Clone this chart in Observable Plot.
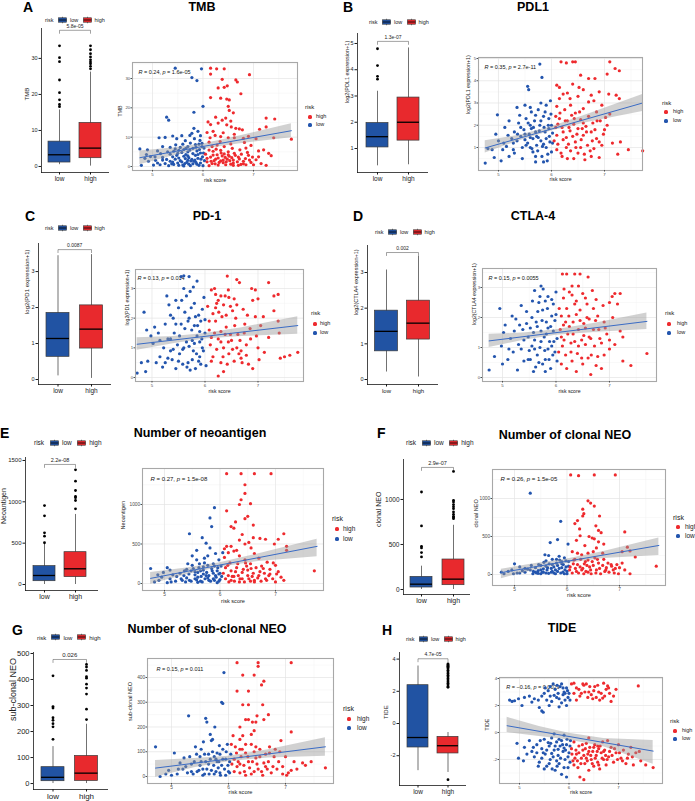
<!DOCTYPE html>
<html><head><meta charset="utf-8">
<script src="https://cdn.jsdelivr.net/npm/d3@7"></script>
<script src="https://cdn.jsdelivr.net/npm/@observablehq/plot@0.6"></script>
<style>
body{margin:0;background:#fff;}
#fig{position:relative;width:695px;height:801px;overflow:hidden;background:#fff;font-family:"Liberation Sans",Arial,Helvetica,sans-serif;color:#1a1a1a;}
#fig .t{position:absolute;white-space:nowrap;line-height:1;}
#fig svg{position:absolute;}
</style></head>
<body><div id="fig"></div>
<script>
// ---------------- shared categories / labels ----------------
const riskGroups = ["low", "high"];
const legendOrder = ["high", "low"];
const panelLetters = ["A", "B", "C", "D", "E", "F", "G", "H"];
const panelTitles = ["TMB", "PDL1", "PD-1", "CTLA-4", "Number of neoantigen", "Number of clonal NEO", "Number of sub-clonal NEO", "TIDE"];
const yTitles = ["TMB", "log2(PDL1 expression+1)", "log2(PD1 expression+1)", "log2(CTLA4 expression+1)", "Neoantigen", "clonal NEO", "sub-clonal NEO", "TIDE"];
const xTitle = "risk score";
const scoreTicks = [5, 6, 7];
const scoreMinor = [5.5, 6.5, 7.5];

// ---------------- A: TMB ----------------
const tmbBox = [[0.5, 1.1, 3.25, 6.9, 15.7], [0.1, 2.3, 5.1, 12.1, 26.2]]; // min,q1,median,q3,max (low, high)
const tmbOutLow = [16.6, 17.2, 18.5, 20.5, 24.0, 29.1, 30.2, 33.5];
const tmbOutHigh = [27.1, 27.8, 28.5, 29.0, 29.6, 30.4, 31.3, 32.4, 33.5];
const tmbP = "5.8e-05";
const tmbBoxTicks = [0, 10, 20, 30];
const tmbTicks = [0, 10, 20, 30];
const tmbMinor = [5, 15, 25, 35];
const tmbStat = "R = 0.24, p = 1.6e-05";
const tmbFit = [[4.75, 3.0], [7.75, 12.2]];
const tmbBand = [[4.75, 0.6, 5.3], [5.4, 3.6, 6.3], [6.0, 5.9, 7.7], [6.7, 7.7, 10.3], [7.75, 9.8, 14.6]];
const tmbLow = [[5.45,33.5],[5.97,33.3],[5.78,30.3],[5.88,29.3],[6.0,20.5],[5.82,18.5],[5.28,16.8],[5.32,15.8],[4.75,6.0],[4.9,5.7],[5.13,9.8],[5.25,9.9],[5.4,10.4],[5.48,9.5],[5.58,10.5],[5.82,13.0],[5.78,11.3],[5.9,12.0],[5.95,10.5],[5.65,8.8],[5.6,7.6],[5.75,8.0],[5.85,7.5],[5.92,7.6],[5.98,7.9],[5.55,6.5],[5.45,6.0],[5.35,6.5],[5.2,6.8],[5.1,5.3],[5.3,5.0],[5.5,4.5],[5.7,5.0],[5.8,6.2],[5.88,5.3],[5.95,4.6],[6.02,6.3],[5.62,3.5],[5.72,3.0],[5.4,3.3],[5.2,3.1],[5.05,3.3],[4.85,2.8],[4.92,1.8],[5.02,0.5],[4.78,0.4],[5.15,0.6],[5.25,1.0],[5.32,0.3],[5.42,0.7],[5.5,1.2],[5.6,0.5],[5.68,1.4],[5.75,0.3],[5.82,1.8],[5.88,0.8],[5.95,1.2],[6.0,0.3],[5.55,2.0],[5.45,2.5],[5.78,2.4],[5.9,2.8],[5.99,3.3],[5.35,1.8],[5.1,1.2],[5.65,2.7],[5.85,3.8],[6.03,2.0],[4.88,4.1],[5.7,6.8],[5.52,5.5],[5.62,0.2],[5.7,2.1],[5.92,0.4],[5.8,0.9],[5.38,0.9],[5.58,1.6],[5.28,2.4],
  [5.35,4.2],[5.42,5.2],[5.48,3.8],[5.52,2.9],[5.58,4.8],[5.62,5.8],[5.66,4.1],[5.7,3.6],[5.74,5.6],[5.76,1.9],[5.8,4.4],[5.84,2.2],[5.86,6.6],[5.9,4.1],[5.93,5.8],[5.96,2.5],[5.98,6.8],[6.01,4.6],[5.64,1.0],[5.72,0.8],[5.86,1.4],[5.52,0.4],[5.4,1.5],[5.2,2.2],[5.06,2.1],[4.96,3.4],[5.16,4.4],[5.46,7.4],[5.66,6.2],[5.94,8.9],[5.83,9.5],[5.74,10.6]];
const tmbHigh = [[6.15,33.5],[6.27,33.3],[6.42,33.3],[6.15,31.5],[6.92,31.3],[6.38,29.7],[6.65,29.5],[6.68,28.8],[6.48,27.5],[6.42,27.0],[6.3,26.8],[6.75,24.8],[6.15,23.5],[6.35,23.3],[6.47,23.0],[6.52,22.7],[6.5,20.5],[6.6,18.3],[6.52,19.1],[6.25,16.8],[6.45,16.5],[6.38,15.8],[6.55,15.5],[6.1,15.2],[6.3,14.8],[6.15,14.3],[6.47,14.2],[6.56,13.5],[6.65,13.0],[6.72,12.8],[6.78,12.5],[6.62,11.0],[6.4,11.5],[6.2,12.0],[6.08,11.6],[6.35,10.2],[6.5,9.8],[6.62,9.8],[6.8,9.6],[6.9,10.3],[7.25,16.5],[7.42,16.2],[7.25,13.5],[7.12,12.7],[7.4,9.8],[7.75,9.3],[7.05,9.5],[6.95,7.2],[6.85,6.3],[6.73,5.7],[6.55,7.7],[6.42,6.8],[6.28,7.3],[6.12,8.3],[6.2,5.2],[6.35,5.5],[6.5,5.0],[6.62,4.5],[7.1,5.3],[7.2,5.7],[7.3,4.5],[7.35,3.7],[7.1,3.3],[7.05,2.3],[6.95,1.4],[6.8,1.8],[6.9,3.8],[6.7,3.2],[6.6,2.2],[6.48,2.5],[6.38,3.6],[6.25,2.5],[6.15,3.2],[6.08,1.6],[6.18,1.0],[6.3,0.5],[6.4,1.3],[6.55,0.8],[6.7,0.4],[6.85,0.6],[7.15,1.0],[7.25,0.4],[6.12,0.3],[6.22,2.0],[6.35,1.9],[6.45,0.6],[6.6,1.2],[6.05,4.2],[6.28,4.0],[6.42,4.3],[6.52,3.5],[6.75,0.7],
  [6.08,2.8],[6.12,5.6],[6.16,1.8],[6.2,3.9],[6.24,0.9],[6.26,5.9],[6.3,2.9],[6.32,1.4],[6.36,4.6],[6.4,2.2],[6.44,3.1],[6.46,1.6],[6.5,4.0],[6.53,2.0],[6.57,3.0],[6.6,0.4],[6.64,3.8],[6.68,1.6],[6.72,2.6],[6.76,4.2],[6.8,0.9],[6.84,2.7],[6.88,4.8],[6.92,2.2],[6.98,3.2],[7.0,0.6],[6.18,6.8],[6.34,8.5],[6.58,6.2],[6.82,8.2],[6.14,9.8],[6.24,10.6]];

// ---------------- B: PDL1 ----------------
const pdl1Box = [[0.34, 1.04, 1.45, 1.97, 3.18], [0.38, 1.3, 2.0, 2.94, 4.83]];
const pdl1OutLow = [3.64, 3.75, 4.16, 4.8];
const pdl1OutHigh = [];
const pdl1P = "1.3e-07";
const pdl1BoxTicks = [1, 2, 3, 4, 5];
const pdl1Ticks = [1, 2, 3, 4, 5];
const pdl1Minor = [0.5, 1.5, 2.5, 3.5, 4.5];
const pdl1Stat = "R = 0.35, p = 2.7e-11";
const pdl1Fit = [[4.75, 0.98], [7.72, 3.0]];
const pdl1Band = [[4.75, 0.75, 1.3], [5.4, 1.3, 1.55], [6.0, 1.74, 1.93], [6.7, 2.13, 2.5], [7.72, 2.62, 3.38]];
const pdl1Low = [[4.75,0.3],[4.8,0.95],[4.88,0.9],[4.95,1.6],[4.98,2.47],[5.0,1.3],[4.92,0.55],[5.05,0.4],[5.1,1.2],[5.15,1.05],[5.2,0.6],[5.25,1.4],[5.28,0.9],[5.3,1.7],[5.35,1.3],[5.38,2.1],[5.42,1.5],[5.45,1.0],[5.45,0.5],[5.48,1.8],[5.52,2.3],[5.55,3.75],[5.57,3.6],[5.55,1.2],[5.58,1.6],[5.6,2.0],[5.62,2.6],[5.65,0.8],[5.65,1.4],[5.68,2.2],[5.7,1.7],[5.72,1.1],[5.75,2.7],[5.78,4.75],[5.82,4.15],[5.78,2.0],[5.8,1.3],[5.82,0.6],[5.85,2.4],[5.88,1.7],[5.9,1.0],[5.9,2.9],[5.92,0.4],[5.95,2.3],[5.96,1.5],[5.98,3.1],[6.0,2.0],[6.0,0.8],[6.02,1.2],[5.5,2.9],[5.35,2.8],[5.2,2.2],[5.12,1.9],[5.85,0.35],[5.7,0.6],[5.6,1.0],[5.75,1.45],[5.95,1.85],[5.4,2.45],[5.3,0.75],[5.62,1.85],[5.5,1.35],[5.85,1.15],
  [5.5,1.6],[5.52,1.1],[5.56,2.1],[5.6,1.45],[5.63,0.95],[5.66,1.9],[5.7,2.45],[5.72,1.5],[5.74,0.85],[5.77,1.75],[5.8,2.2],[5.83,1.05],[5.86,1.9],[5.88,2.6],[5.9,1.4],[5.93,0.7],[5.94,2.0],[5.97,1.25],[5.99,2.5],[6.02,1.65],[5.42,1.9],[5.36,1.6],[5.28,1.2],[5.18,1.55],[5.08,0.9],[5.7,0.35],[5.6,2.8],[5.8,3.0]];
const pdl1High = [[6.18,4.85],[6.28,4.8],[6.4,4.85],[6.45,4.85],[7.1,4.85],[7.2,4.55],[7.28,4.45],[7.05,4.3],[6.55,4.25],[6.7,4.1],[6.82,4.1],[6.4,3.85],[6.1,3.8],[6.15,3.7],[6.6,3.6],[6.9,3.5],[6.3,3.45],[6.22,3.4],[6.5,3.3],[6.35,3.2],[6.7,3.05],[6.75,3.35],[7.08,3.4],[7.22,3.35],[7.28,3.2],[6.95,2.9],[6.85,2.6],[6.6,2.75],[6.45,2.55],[6.25,2.7],[6.1,2.85],[6.15,2.3],[6.3,2.2],[6.42,2.05],[6.55,2.25],[6.65,1.95],[6.78,2.1],[6.92,2.2],[7.05,2.0],[6.2,1.9],[6.35,1.75],[6.48,1.6],[6.6,1.55],[6.75,1.7],[6.85,1.4],[7.0,1.8],[7.15,1.2],[6.1,1.55],[6.22,1.35],[6.32,1.15],[6.45,1.25],[6.55,1.0],[6.68,1.1],[6.8,0.95],[6.95,1.1],[7.3,1.25],[7.25,0.7],[7.45,0.9],[7.72,0.85],[6.1,0.9],[6.2,0.6],[6.3,0.5],[6.42,0.5],[6.5,0.75],[6.62,0.7],[6.75,0.6],[6.9,0.55],[6.12,2.05],[6.38,2.45],[6.58,1.85],[6.28,1.0],[6.05,1.3],[6.08,2.4],[7.1,2.5],
  [6.08,1.9],[6.12,1.15],[6.16,2.55],[6.18,0.75],[6.22,1.7],[6.26,2.2],[6.28,1.45],[6.33,1.9],[6.36,0.85],[6.4,1.5],[6.43,2.3],[6.46,1.0],[6.5,1.85],[6.53,2.6],[6.56,1.35],[6.6,2.1],[6.63,0.45],[6.66,1.7],[6.7,2.4],[6.73,0.85],[6.77,1.3],[6.82,1.8],[6.86,2.2],[6.9,1.25],[6.98,1.6],[7.02,2.35],[6.15,3.2],[6.36,2.9],[6.52,3.7],[6.8,3.1]];

// ---------------- C: PD-1 ----------------
const pd1Box = [[0.1, 0.63, 1.14, 1.85, 3.44], [0.03, 0.86, 1.4, 2.06, 3.47]];
const pd1OutLow = [];
const pd1OutHigh = [];
const pd1P = "0.0087";
const pd1BoxTicks = [0, 1, 2, 3];
const pd1Ticks = [0, 1, 2, 3];
const pd1Minor = [0.5, 1.5, 2.5, 3.5];
const pd1Stat = "R = 0.13, p = 0.014";
const pd1Fit = [[4.72, 1.12], [7.75, 1.75]];
const pd1Band = [[4.72, 0.92, 1.34], [5.4, 1.14, 1.38], [6.0, 1.3, 1.48], [6.7, 1.38, 1.68], [7.75, 1.46, 2.05]];
const pd1Low = [[4.72,0.15],[4.8,0.5],[4.85,2.2],[4.88,0.2],[4.9,1.6],[4.92,0.55],[4.98,1.4],[5.02,1.15],[5.08,0.5],[5.15,0.7],[5.2,0.35],[5.22,1.0],[5.25,1.8],[5.28,2.75],[5.3,1.3],[5.32,2.45],[5.35,0.9],[5.38,0.6],[5.4,2.0],[5.42,1.5],[5.45,0.3],[5.48,1.1],[5.5,2.35],[5.52,0.8],[5.55,1.8],[5.55,3.4],[5.6,3.43],[5.62,2.2],[5.65,1.2],[5.68,0.5],[5.7,3.4],[5.72,2.9],[5.75,1.6],[5.78,0.9],[5.8,2.5],[5.82,0.3],[5.85,1.4],[5.85,3.25],[5.88,2.1],[5.9,0.7],[5.92,1.9],[5.95,1.0],[5.98,2.7],[6.0,1.5],[6.02,0.4],[5.6,1.0],[5.7,2.0],[5.35,1.3],[5.76,1.25],[5.95,2.3],[5.3,0.65],[5.15,1.25],[5.05,1.7],[5.65,2.75],[5.9,1.2],[5.8,1.75],[5.45,2.6],[5.58,0.45],[5.72,0.25],[5.88,0.55],
  [5.45,1.8],[5.5,0.55],[5.52,1.4],[5.56,2.6],[5.58,0.95],[5.62,1.65],[5.66,0.35],[5.68,1.9],[5.7,1.05],[5.74,2.35],[5.76,0.6],[5.8,1.15],[5.82,2.05],[5.84,0.8],[5.86,1.75],[5.9,1.55],[5.92,0.45],[5.94,1.3],[5.97,0.9],[6.0,1.95],[5.4,0.95],[5.25,0.5],[5.12,1.5],[5.35,2.1],[5.6,3.0],[5.78,3.05]];
const pd1High = [[6.12,2.95],[6.2,2.8],[6.25,2.6],[6.3,2.75],[6.18,3.0],[6.22,2.5],[6.35,2.45],[6.38,2.75],[6.45,2.7],[6.52,2.25],[6.58,2.0],[6.42,3.42],[6.6,3.3],[6.65,3.2],[6.88,3.0],[6.95,2.95],[7.0,2.65],[7.05,1.75],[7.2,3.2],[7.3,2.75],[7.38,2.8],[7.3,2.25],[7.38,1.9],[7.4,1.5],[7.1,2.05],[7.12,0.85],[7.2,1.35],[7.42,0.65],[7.5,0.7],[7.6,0.75],[7.75,0.85],[6.05,2.4],[6.08,1.6],[6.1,1.1],[6.15,0.7],[6.2,1.9],[6.25,1.3],[6.3,0.5],[6.35,1.0],[6.4,1.7],[6.45,0.8],[6.5,1.25],[6.55,0.55],[6.62,1.45],[6.68,0.9],[6.72,2.3],[6.78,1.1],[6.82,0.45],[6.85,1.65],[6.9,0.3],[6.95,2.05],[7.0,1.0],[6.15,2.15],[6.4,2.1],[6.6,1.0],[6.25,0.05],[6.35,0.2],[6.55,2.65],[6.75,1.8],[6.48,1.45],[6.12,1.35],[6.3,1.55],[6.68,0.65],
  [6.08,1.9],[6.12,0.55],[6.18,1.5],[6.22,0.95],[6.26,2.2],[6.3,1.2],[6.34,0.7],[6.38,1.45],[6.42,0.45],[6.44,1.2],[6.48,2.4],[6.52,0.95],[6.56,1.75],[6.6,2.45],[6.64,0.8],[6.66,1.25],[6.7,0.5],[6.74,1.5],[6.78,0.75],[6.8,2.1],[6.86,1.3],[6.9,2.6],[6.97,1.4],[7.02,0.6],[6.2,2.35],[6.32,2.05],[6.44,2.95]];

// ---------------- D: CTLA-4 ----------------
const ctla4Box = [[0.21, 0.79, 1.35, 1.93, 3.07], [0.07, 1.12, 1.58, 2.21, 3.45]];
const ctla4OutLow = [];
const ctla4OutHigh = [];
const ctla4P = "0.002";
const ctla4BoxTicks = [0, 1, 2, 3];
const ctla4Ticks = [0, 1, 2, 3];
const ctla4Minor = [0.5, 1.5, 2.5, 3.5];
const ctla4Stat = "R = 0.15, p = 0.0055";
const ctla4Fit = [[4.75, 1.22], [7.7, 1.87]];
const ctla4Band = [[4.75, 1.0, 1.44], [5.4, 1.24, 1.48], [6.0, 1.41, 1.59], [6.7, 1.5, 1.8], [7.7, 1.6, 2.15]];
const ctla4Low = [[4.75,0.25],[4.85,0.7],[4.95,2.3],[4.98,1.05],[5.02,1.5],[5.05,1.75],[5.0,0.45],[5.1,0.6],[5.15,1.3],[5.2,0.85],[5.25,1.95],[5.28,0.25],[5.3,1.1],[5.35,2.4],[5.38,1.6],[5.4,0.55],[5.45,2.2],[5.48,1.35],[5.5,0.9],[5.55,2.0],[5.58,1.5],[5.6,2.9],[5.62,0.35],[5.65,1.7],[5.68,2.5],[5.7,1.0],[5.72,3.05],[5.75,2.25],[5.78,1.35],[5.8,0.6],[5.82,1.85],[5.85,2.7],[5.88,1.2],[5.9,0.3],[5.92,2.05],[5.95,1.55],[5.98,0.85],[6.0,2.85],[6.02,1.3],[5.55,1.05],[5.65,0.75],[5.75,0.45],[5.85,1.65],[5.95,2.45],[5.45,1.8],[5.35,0.95],[5.22,1.55],[5.7,2.7],[5.8,2.55],[5.92,1.05],[5.6,1.25],[5.85,0.95],[5.72,1.55],[5.98,1.9],[5.52,0.6],
  [5.48,0.6],[5.52,1.65],[5.56,2.55],[5.6,0.95],[5.63,1.85],[5.66,2.2],[5.68,0.5],[5.72,1.2],[5.74,1.9],[5.76,2.95],[5.79,0.9],[5.82,1.45],[5.84,2.3],[5.87,0.6],[5.9,1.7],[5.92,2.6],[5.94,0.75],[5.96,1.2],[6.0,2.1],[6.02,0.55],[5.4,1.25],[5.32,1.75],[5.18,2.05],[5.12,0.95],[5.58,0.2],[5.8,0.2]];
const ctla4High = [[6.12,3.45],[6.2,3.45],[6.35,3.45],[6.45,3.45],[6.6,3.35],[6.42,3.05],[6.25,2.85],[6.15,2.95],[6.3,2.75],[6.5,2.8],[6.55,2.65],[6.68,2.9],[6.75,2.6],[7.0,2.5],[7.05,2.7],[7.1,2.8],[7.2,2.8],[7.15,2.45],[7.2,1.55],[7.25,1.35],[6.9,1.85],[6.85,1.15],[6.7,2.3],[6.65,1.3],[6.58,2.0],[6.45,1.9],[6.38,2.1],[6.2,2.3],[6.1,2.05],[6.08,1.6],[6.15,1.25],[6.25,1.7],[6.32,1.45],[6.4,0.8],[6.48,1.25],[6.55,1.65],[6.6,0.65],[6.72,1.05],[6.8,1.6],[6.9,0.75],[7.0,0.95],[7.1,1.1],[7.25,0.55],[7.4,0.4],[7.7,0.8],[6.05,0.85],[6.1,0.45],[6.2,0.3],[6.3,0.55],[6.38,0.2],[6.5,0.45],[6.65,0.1],[6.75,0.4],[6.85,0.3],[6.28,1.15],[6.42,1.6],[6.62,1.95],[6.18,1.85],[6.35,2.45],[6.52,1.4],[6.78,2.05],[6.95,1.45],[6.12,1.05],
  [6.06,2.3],[6.1,1.35],[6.14,1.75],[6.18,0.75],[6.22,1.45],[6.24,2.05],[6.28,0.85],[6.32,1.85],[6.35,1.2],[6.38,2.55],[6.42,1.05],[6.45,2.25],[6.48,0.65],[6.52,1.8],[6.55,1.1],[6.58,2.45],[6.62,1.35],[6.66,0.75],[6.7,1.6],[6.74,1.9],[6.78,0.7],[6.82,1.3],[6.88,2.4],[6.92,1.65],[7.0,1.25],[7.06,2.0],[6.14,2.65],[6.3,3.05]];

// ---------------- E: neoantigen ----------------
const neoBox = [[0, 40, 109, 222, 484], [0, 89, 190, 391, 847]];
const neoOutLow = [505, 585, 625, 830, 955];
const neoOutHigh = [915, 1016, 1050, 1065, 1137, 1250, 1387];
const neoP = "2.2e-08";
const neoBoxTicks = [0, 500, 1000, 1500];
const neoTicks = [0, 500, 1000];
const neoMinor = [250, 750, 1250];
const neoStat = "R = 0.27, p = 1.5e-08";
const neoFit = [[4.75, 65], [7.75, 470]];
const neoBand = [[4.75, -10, 140], [5.4, 110, 196], [6.0, 205, 263], [6.7, 280, 376], [7.75, 340, 560]];
const neoLow = [[4.75,190],[4.82,20],[4.88,110],[4.95,80],[5.05,200],[5.1,170],[5.1,60],[5.2,30],[5.28,130],[5.35,100],[5.38,20],[5.42,250],[5.45,630],[5.48,160],[5.55,60],[5.58,300],[5.62,200],[5.68,580],[5.7,120],[5.75,510],[5.78,350],[5.8,40],[5.82,450],[5.82,830],[5.85,720],[5.88,250],[5.9,960],[5.92,100],[5.92,380],[5.95,160],[5.98,300],[6.0,50],[6.02,220],[5.4,180],[5.6,80],[5.65,30],[5.72,260],[5.5,350],[5.85,190],[5.95,10],[5.3,60],[5.15,110],[5.05,10],[6.05,390],[5.7,210],[5.55,150],[5.88,130],[5.78,70],[5.65,160],[5.98,120],[5.45,40],[5.6,15],[5.75,100],[5.9,40],[5.5,230],
  [5.32,40],[5.36,160],[5.4,70],[5.44,120],[5.48,30],[5.52,190],[5.55,110],[5.58,45],[5.6,140],[5.63,250],[5.66,90],[5.68,20],[5.7,170],[5.73,60],[5.76,140],[5.78,230],[5.8,100],[5.83,30],[5.86,160],[5.88,60],[5.9,220],[5.93,80],[5.96,200],[5.98,30],[6.0,130],[6.03,90],[5.22,90],[5.12,20],[4.98,140],[4.9,40],[5.58,420],[5.72,320]];
const neoHigh = [[6.12,1390],[6.38,1390],[6.62,1390],[6.92,1390],[6.45,1250],[6.45,1140],[6.38,1060],[6.35,1000],[6.55,1010],[6.12,920],[6.5,850],[6.45,820],[6.28,780],[6.2,720],[6.25,700],[6.6,580],[6.35,550],[6.72,570],[6.82,560],[6.52,520],[6.45,500],[6.2,470],[6.12,470],[7.05,560],[7.15,630],[7.2,470],[6.98,500],[7.2,420],[7.7,160],[6.15,390],[6.25,410],[6.35,350],[6.45,300],[6.55,250],[6.62,380],[6.7,320],[6.75,220],[6.85,270],[6.9,180],[7.0,230],[7.05,150],[7.1,80],[6.95,60],[6.82,60],[6.08,330],[6.1,200],[6.15,100],[6.2,40],[6.28,150],[6.32,250],[6.4,60],[6.42,180],[6.5,100],[6.55,30],[6.6,130],[6.68,70],[6.72,150],[6.8,130],[6.88,100],[7.15,40],[7.0,20],[6.25,90],[6.35,20],[6.48,220],[6.62,40],[6.18,260],
  [6.06,130],[6.1,60],[6.14,230],[6.16,20],[6.2,160],[6.22,90],[6.26,30],[6.3,200],[6.33,100],[6.36,60],[6.4,140],[6.44,20],[6.46,260],[6.5,170],[6.52,60],[6.56,190],[6.58,90],[6.62,20],[6.65,200],[6.7,100],[6.74,30],[6.78,190],[6.84,40],[6.9,120],[6.96,260],[7.02,120],[6.08,440],[6.3,420],[6.56,450],[6.4,620],[6.6,740]];

// ---------------- F: clonal NEO ----------------
const clonBox = [[0, 22, 59, 140, 259], [0, 48, 115, 333, 713]];
const clonOutLow = [362, 410, 462, 480, 706, 1083];
const clonOutHigh = [787, 800, 813, 835, 861, 898, 920, 943, 972, 991, 1312];
const clonP = "2.9e-07";
const clonBoxTicks = [0, 500, 1000];
const clonTicks = [0, 500, 1000];
const clonMinor = [250, 750, 1250];
const clonStat = "R = 0.26, p = 1.5e-05";
const clonFit = [[4.75, 25], [7.75, 382]];
const clonBand = [[4.75, -55, 68], [5.4, 60, 145], [6.0, 145, 203], [6.7, 212, 302], [7.75, 250, 480]];
const clonLow = [[4.75,30],[4.8,10],[4.88,40],[4.95,60],[5.0,140],[5.05,20],[5.1,100],[5.2,30],[5.25,70],[5.3,1070],[5.35,10],[5.4,90],[5.45,50],[5.5,120],[5.55,30],[5.6,180],[5.62,60],[5.65,250],[5.68,420],[5.72,130],[5.75,20],[5.8,200],[5.82,460],[5.85,80],[5.88,700],[5.9,140],[5.92,30],[5.95,220],[5.98,100],[6.02,400],[6.0,40],[5.7,80],[5.5,10],[5.78,60],[5.6,110],[5.9,170],[5.4,30],[5.3,60],[5.15,50],[5.85,240],[5.95,10],[6.03,170],[5.65,15],[5.55,75],[5.82,120],[5.72,40],[5.45,15],
  [5.32,120],[5.36,40],[5.42,20],[5.46,130],[5.5,60],[5.53,30],[5.56,160],[5.6,20],[5.63,90],[5.66,140],[5.7,30],[5.72,200],[5.75,100],[5.78,10],[5.8,150],[5.82,40],[5.86,190],[5.88,20],[5.9,90],[5.93,130],[5.96,60],[5.98,180],[6.0,10],[6.03,110],[5.2,80],[5.1,20],[4.98,10],[5.58,260]];
const clonHigh = [[6.07,1310],[6.22,1300],[6.52,1310],[6.92,1310],[6.4,970],[6.45,940],[6.52,900],[6.3,860],[6.32,800],[6.3,770],[6.62,770],[6.2,710],[6.15,670],[6.55,640],[6.6,580],[6.65,550],[6.25,510],[6.42,500],[6.48,480],[6.52,470],[6.6,430],[6.7,400],[6.18,450],[7.1,560],[7.05,300],[7.15,360],[7.2,310],[7.3,230],[7.7,110],[6.1,300],[6.2,280],[6.28,260],[6.4,280],[6.5,300],[6.58,200],[6.68,280],[6.78,150],[6.85,110],[6.95,130],[7.0,90],[7.1,60],[7.2,10],[6.12,140],[6.18,40],[6.25,100],[6.32,10],[6.38,120],[6.45,60],[6.55,20],[6.62,80],[6.72,40],[6.9,20],[6.05,60],[6.15,200],[6.35,170],[6.48,170],[6.75,90],[6.4,30],[6.28,60],[6.88,60],
  [6.06,100],[6.1,20],[6.13,190],[6.16,80],[6.2,130],[6.22,20],[6.26,200],[6.3,80],[6.33,140],[6.36,40],[6.4,190],[6.43,100],[6.46,10],[6.5,120],[6.53,220],[6.56,60],[6.6,150],[6.64,10],[6.68,120],[6.7,200],[6.74,60],[6.8,30],[6.84,130],[6.92,80],[6.98,10],[7.05,150],[6.34,380],[6.24,600],[6.56,350]];

// ---------------- G: sub-clonal NEO ----------------
const subBox = [[0, 9, 24, 63, 142], [0, 10, 40, 106, 228]];
const subOutLow = [170, 218, 230, 243, 253, 290, 296, 414];
const subOutHigh = [246, 286, 344, 367, 382, 405, 411, 435, 448, 458];
const subP = "0.026";
const subBoxTicks = [0, 100, 200, 300, 400, 500];
const subTicks = [0, 100, 200, 300, 400];
const subMinor = [50, 150, 250, 350, 450];
const subStat = "R = 0.15, p = 0.011";
const subFit = [[4.72, 34], [7.7, 120]];
const subBand = [[4.72, -3, 65], [5.4, 35, 73], [6.0, 60, 82], [6.7, 75, 108], [7.7, 82, 157]];
const subLow = [[4.72,120],[4.8,0],[4.9,10],[4.95,25],[5.05,95],[5.1,10],[5.2,30],[5.28,15],[5.3,245],[5.35,50],[5.4,60],[5.45,20],[5.5,80],[5.55,30],[5.58,10],[5.6,235],[5.62,220],[5.65,50],[5.68,170],[5.7,145],[5.72,150],[5.75,80],[5.75,10],[5.8,60],[5.82,35],[5.85,15],[5.88,300],[5.9,295],[5.92,420],[5.9,110],[5.95,70],[5.98,130],[6.0,20],[6.02,60],[5.52,110],[5.42,120],[5.65,90],[5.78,70],[5.88,45],[5.95,5],[5.35,20],[5.15,55],[5.7,25],[5.6,60],[5.85,90],[5.5,45],[5.25,40],[5.0,5],
  [5.32,80],[5.38,10],[5.44,90],[5.48,25],[5.52,60],[5.55,5],[5.58,90],[5.62,30],[5.66,10],[5.68,70],[5.72,100],[5.74,45],[5.78,20],[5.8,95],[5.83,60],[5.86,5],[5.9,70],[5.93,30],[5.96,100],[5.99,45],[6.02,15],[6.04,90],[5.22,75],[5.12,30],[5.56,140],[5.84,125],[5.76,200]];
const subHigh = [[6.15,460],[6.52,460],[6.52,445],[7.1,460],[6.25,410],[6.45,410],[6.62,385],[6.58,370],[6.15,345],[6.35,345],[6.25,290],[6.35,290],[6.6,290],[6.5,245],[6.3,230],[6.35,230],[6.62,230],[6.42,220],[6.48,220],[6.2,200],[6.45,185],[7.1,180],[6.92,145],[6.08,165],[6.25,165],[6.05,130],[6.12,120],[6.2,110],[6.3,130],[6.4,130],[6.45,100],[6.55,110],[6.65,90],[6.72,120],[6.8,80],[6.9,100],[7.0,80],[7.15,60],[7.3,55],[7.35,45],[7.45,60],[7.7,35],[6.1,70],[6.15,40],[6.22,80],[6.28,20],[6.35,60],[6.4,10],[6.5,50],[6.58,20],[6.65,40],[6.75,15],[6.85,30],[6.95,10],[7.05,15],[7.1,25],[6.2,50],[6.48,75],[6.7,60],[6.3,95],
  [6.06,50],[6.1,20],[6.14,95],[6.17,60],[6.2,15],[6.24,110],[6.27,45],[6.3,5],[6.34,80],[6.37,35],[6.42,60],[6.45,20],[6.48,120],[6.52,30],[6.55,80],[6.6,5],[6.62,55],[6.68,30],[6.72,95],[6.78,40],[6.82,110],[6.88,60],[6.95,40],[7.02,5],[7.2,30],[6.2,150],[6.4,170],[6.7,250]];

// ---------------- H: TIDE ----------------
const tideBox = [[-2.93, -1.49, -0.87, 2.38, 3.57], [-3.04, -1.86, -1.38, -0.83, -0.56]];
const tideOutLow = [];
const tideOutHigh = [2.25, 2.3, 2.4, 2.5, 2.6, 2.7, 2.8, 2.9, 3.0, 3.1, 3.2, 3.3, 3.4, 3.5, 3.55, 3.6, 3.65, 3.7, -3.49];
const tideP = "4.7e-05";
const tideBoxTicks = [-2, 0, 2, 4];
const tideTicks = [-2, 0, 2, 4];
const tideMinor = [-3, -1, 1, 3];
const tideStat = "R = −0.16, p = 0.0029";
const tideFit = [[4.75, 0.5], [7.7, -1.38]];
const tideBand = [[4.75, 0.0, 1.12], [5.4, -0.3, 0.45], [6.0, -0.55, -0.05], [6.7, -1.05, -0.45], [7.7, -2.35, -0.6]];
const tideLow = [[4.8,2.4],[4.85,2.3],[4.9,2.35],[4.98,2.5],[5.05,2.0],[5.2,2.7],[5.3,2.5],[5.38,2.4],[5.4,1.85],[5.45,1.6],[5.48,1.5],[5.5,2.9],[5.52,3.3],[5.58,3.1],[5.62,2.7],[5.65,2.3],[5.68,3.6],[5.72,3.2],[5.75,2.6],[5.78,2.9],[5.82,3.4],[5.85,2.2],[5.88,2.8],[5.9,3.0],[5.92,2.4],[5.95,3.3],[5.98,2.6],[6.0,2.9],[5.8,1.9],[5.6,2.0],[5.85,3.6],[5.95,2.0],[4.95,-0.8],[4.98,-1.9],[5.08,-2.1],[5.1,-1.1],[5.2,-0.6],[5.25,-1.4],[5.3,-1.8],[5.35,-0.9],[5.4,-2.2],[5.45,-1.2],[5.5,-0.5],[5.52,-1.6],[5.55,-2.5],[5.6,-1.0],[5.62,-2.0],[5.65,-0.4],[5.7,-1.3],[5.72,-2.8],[5.75,-0.7],[5.78,-1.7],[5.8,-2.3],[5.82,-1.0],[5.85,-3.1],[5.88,-1.4],[5.9,-0.2],[5.92,-2.0],[5.95,-0.9],[5.98,-2.6],[6.0,-1.5],[6.03,-0.6],[5.65,-1.55],[5.58,-0.75],[5.45,-1.9],[5.35,-1.5],[5.9,-1.15],[6.02,-2.2],[5.75,-2.1],[5.85,-0.6],[5.5,-2.7],[5.95,-3.3],[5.7,-0.1],
  [5.1,2.6],[5.25,2.25],[5.45,2.7],[5.55,2.4],[5.62,3.4],[5.7,2.75],[5.76,3.5],[5.8,2.5],[5.88,3.3],[5.92,2.9],[5.97,3.1],[6.02,2.4],[5.15,-1.6],[5.28,-1.1],[5.38,-2.5],[5.42,-0.6],[5.48,-1.5],[5.55,-1.3],[5.6,-2.3],[5.63,-0.8],[5.68,-1.8],[5.72,-1.0],[5.76,-2.5],[5.8,-0.5],[5.83,-1.9],[5.87,-0.9],[5.9,-2.6],[5.93,-1.3],[5.96,-0.5],[5.98,-1.8],[6.02,-1.0],[5.78,-1.25],[5.66,-2.7]];
const tideHigh = [[6.05,3.6],[6.1,3.65],[6.2,3.2],[6.25,2.9],[6.3,3.5],[6.32,3.0],[6.38,2.6],[6.42,3.4],[6.45,2.8],[6.5,3.1],[6.55,2.6],[6.58,3.5],[6.62,2.4],[6.65,2.9],[6.7,3.65],[6.72,2.7],[6.75,3.2],[6.78,3.45],[6.82,2.9],[6.85,2.3],[7.4,3.45],[6.15,2.4],[6.35,3.6],[6.48,2.5],[6.1,2.9],[6.05,-1.2],[6.08,-2.1],[6.1,-0.7],[6.15,-1.6],[6.18,-2.6],[6.2,-1.0],[6.22,-3.3],[6.25,-1.9],[6.28,-1.3],[6.3,-3.5],[6.32,-2.3],[6.35,-0.8],[6.38,-1.6],[6.4,-2.8],[6.42,-1.1],[6.45,-2.0],[6.48,-1.4],[6.5,-2.5],[6.52,-0.9],[6.55,-1.7],[6.58,-2.2],[6.6,-1.2],[6.62,-2.7],[6.65,-1.5],[6.68,-0.7],[6.7,-2.0],[6.72,-1.3],[6.75,-2.4],[6.78,-0.6],[6.8,-1.8],[6.85,-1.1],[6.9,-2.2],[6.95,-1.5],[7.0,-0.9],[7.05,-1.9],[7.1,-1.3],[7.15,-2.3],[7.2,-1.6],[7.25,-1.1],[7.3,-2.4],[7.35,-1.5],[7.45,-2.1],[7.7,-2.6],[6.12,-1.9],[6.35,-1.9],[6.58,-1.0],[6.4,-0.4],
  [6.15,3.3],[6.28,3.6],[6.4,3.0],[6.52,3.4],[6.6,3.0],[6.68,2.55],[6.8,3.3],[6.9,2.7],[6.95,3.2],[6.22,2.7],[6.06,-1.6],[6.1,-2.4],[6.14,-1.3],[6.17,-2.1],[6.2,-1.5],[6.24,-2.3],[6.27,-0.9],[6.3,-1.7],[6.33,-1.2],[6.37,-2.1],[6.4,-1.4],[6.44,-1.7],[6.47,-2.3],[6.5,-1.1],[6.53,-1.9],[6.57,-1.4],[6.6,-2.4],[6.63,-1.0],[6.67,-1.9],[6.7,-1.4],[6.74,-1.7],[6.77,-2.0],[6.82,-1.4],[6.87,-1.7],[6.92,-1.2],[6.98,-2.0],[7.02,-1.5],[7.08,-2.1],[7.18,-1.9],[7.28,-1.8],[7.42,-1.4],[7.55,-2.4]];

// ---------------- assemble (references to the arrays above) ----------------
const panelData = [
  {stats: tmbBox, outLow: tmbOutLow, outHigh: tmbOutHigh, p: tmbP, boxTicks: tmbBoxTicks, ticks: tmbTicks, minor: tmbMinor, stat: tmbStat, fit: tmbFit, band: tmbBand, low: tmbLow, high: tmbHigh},
  {stats: pdl1Box, outLow: pdl1OutLow, outHigh: pdl1OutHigh, p: pdl1P, boxTicks: pdl1BoxTicks, ticks: pdl1Ticks, minor: pdl1Minor, stat: pdl1Stat, fit: pdl1Fit, band: pdl1Band, low: pdl1Low, high: pdl1High},
  {stats: pd1Box, outLow: pd1OutLow, outHigh: pd1OutHigh, p: pd1P, boxTicks: pd1BoxTicks, ticks: pd1Ticks, minor: pd1Minor, stat: pd1Stat, fit: pd1Fit, band: pd1Band, low: pd1Low, high: pd1High},
  {stats: ctla4Box, outLow: ctla4OutLow, outHigh: ctla4OutHigh, p: ctla4P, boxTicks: ctla4BoxTicks, ticks: ctla4Ticks, minor: ctla4Minor, stat: ctla4Stat, fit: ctla4Fit, band: ctla4Band, low: ctla4Low, high: ctla4High},
  {stats: neoBox, outLow: neoOutLow, outHigh: neoOutHigh, p: neoP, boxTicks: neoBoxTicks, ticks: neoTicks, minor: neoMinor, stat: neoStat, fit: neoFit, band: neoBand, low: neoLow, high: neoHigh},
  {stats: clonBox, outLow: clonOutLow, outHigh: clonOutHigh, p: clonP, boxTicks: clonBoxTicks, ticks: clonTicks, minor: clonMinor, stat: clonStat, fit: clonFit, band: clonBand, low: clonLow, high: clonHigh},
  {stats: subBox, outLow: subOutLow, outHigh: subOutHigh, p: subP, boxTicks: subBoxTicks, ticks: subTicks, minor: subMinor, stat: subStat, fit: subFit, band: subBand, low: subLow, high: subHigh},
  {stats: tideBox, outLow: tideOutLow, outHigh: tideOutHigh, p: tideP, boxTicks: tideBoxTicks, ticks: tideTicks, minor: tideMinor, stat: tideStat, fit: tideFit, band: tideBand, low: tideLow, high: tideHigh}
];

// ---------------- layout (positions / sizes / styles) ----------------
const FONT = '"Liberation Sans", Arial, Helvetica, sans-serif';
const INK = "#1a1a1a";
const boxColors = ["#2153A3", "#E8292D"];
const dotColors = ["#2355AE", "#EE2A2E"];
const layout = [
  {letter: [23, 7], title: [202, 7],
   box: {x0: 41, x1: 108, y0: 28, y1: 172, c1: 59, c2: 90, bw: 22, yd: [-1.67, 38.3], br: 37.8, tf: 5.5, lf: 6.5, ttf: 6, tdx: -14, pf: 5},
   boxLeg: [45, 20, 5.5],
   sc: {x0: 132, x1: 297, y0: 62, y1: 170, xd: [4.604, 7.871], yd: [-1.36, 35.45], ax: 6, ay: 10, af: 5.5, tf: 4.3, lf: 5.2, xdy: 11, ydx: -12},
   scLeg: [305, 107, 117, 125, 5, 11, 5.5]},
  {letter: [343, 7], title: [533, 7],
   box: {x0: 357, x1: 427, y0: 33, y1: 172, c1: 377, c2: 408, bw: 22, yd: [0.086, 5.38], br: 5.08, tf: 5.5, lf: 6.5, ttf: 5.5, tdx: -10, pf: 5},
   boxLeg: [369, 22, 5.5],
   sc: {x0: 478, x1: 642, y0: 57, y1: 170, xd: [4.623, 7.717], yd: [-0.034, 5.045], ax: 6, ay: 10, af: 5.5, tf: 4.3, lf: 5.2, xdy: 10.8, ydx: -10},
   scLeg: [662, 103, 112, 121, 4, 11, 5.5]},
  {letter: [25, 216], title: [207, 216],
   box: {x0: 38, x1: 110, y0: 243, y1: 384, c1: 57.5, c2: 91, bw: 23, yd: [-0.139, 3.78], br: 3.61, tf: 5.5, lf: 6.5, ttf: 6, tdx: -11, pf: 5},
   boxLeg: [45, 228, 5.5],
   sc: {x0: 135, x1: 303, y0: 269, y1: 381, xd: [4.689, 7.858], yd: [-0.135, 3.64], ax: 2, ay: 9, af: 5.5, tf: 4.3, lf: 5.2, xdy: 11, ydx: -8},
   scLeg: [311, 313, 324, 333, 4, 9, 5.5]},
  {letter: [353, 216], title: [533, 216],
   box: {x0: 367, x1: 437, y0: 245, y1: 384, c1: 386, c2: 418, bw: 23, yd: [-0.14, 3.757], br: 3.56, tf: 5.5, lf: 6, ttf: 5.5, tdx: -11, pf: 5},
   boxLeg: [375, 232, 5.5],
   sc: {x0: 482, x1: 656, y0: 268, y1: 381, xd: [4.626, 7.879], yd: [-0.133, 3.633], ax: 6, ay: 9.4, af: 5.5, tf: 4.3, lf: 5.2, xdy: 11, ydx: -8},
   scLeg: [665, 313, 324, 333, 4, 12, 5.5]},
  {letter: [0, 433], title: [200, 433],
   box: {x0: 25, x1: 97, y0: 457, y1: 590, c1: 44, c2: 75, bw: 22, yd: [-72.6, 1536], br: 1452, tf: 6, lf: 7, ttf: 7, tdx: -21.5, pf: 5.5},
   boxLeg: [34, 443, 6.5],
   sc: {x0: 142, x1: 323, y0: 468, y1: 590, xd: [4.604, 7.865], yd: [-88.6, 1455.7], ax: 8, ay: 10.7, af: 6, tf: 4.8, lf: 5.6, xdy: 12, ydx: -19},
   scLeg: [332, 518, 529, 539, 5, 11, 6.5]},
  {letter: [377, 433], title: [565, 435],
   box: {x0: 403, x1: 469, y0: 459, y1: 594, c1: 421, c2: 453, bw: 22, yd: [-55.6, 1444], br: 1356, tf: 6.5, lf: 7, ttf: 7, tdx: -25, pf: 5.5},
   boxLeg: [406, 443, 6.5],
   sc: {x0: 492, x1: 665, y0: 469, y1: 585, xd: [4.581, 7.876], yd: [-144.7, 1381.6], ax: 8, ay: 10, af: 6, tf: 4.8, lf: 5.6, xdy: 11, ydx: -16},
   scLeg: [673, 517, 527, 536, 5, 12, 6.5]},
  {letter: [12, 630], title: [207, 629],
   box: {x0: 33, x1: 107, y0: 652, y1: 789, c1: 52.5, c2: 86, bw: 23, yd: [-22.9, 503.8], br: 477, tf: 7.5, lf: 8, ttf: 9, tdx: -20, pf: 6},
   boxLeg: [37, 637, 6],
   sc: {x0: 147, x1: 333, y0: 658, y1: 783, xd: [4.579, 7.842], yd: [-28.3, 476.8], ax: 9, ay: 10.7, af: 5.5, tf: 4.8, lf: 5.6, xdy: 10, ydx: -17},
   scLeg: [343, 708, 719, 728, 6, 14, 6.5]},
  {letter: [382, 630], title: [562, 628],
   box: {x0: 399, x1: 465, y0: 652, y1: 785, c1: 417.5, c2: 447.5, bw: 21, yd: [-3.85, 4.41], br: 4.02, tf: 5.5, lf: 6.5, ttf: 6, tdx: -13, pf: 5},
   boxLeg: [406, 639, 5.5],
   sc: {x0: 499, x1: 662, y0: 677, y1: 783, xd: [4.596, 7.889], yd: [-3.78, 4.074], ax: 6.7, ay: 10, af: 5.5, tf: 4.3, lf: 5.2, xdy: 10, ydx: -12},
   scLeg: [670, 721, 731, 739, 5, 12, 5.5]}
];

const fig = document.getElementById("fig");
function addText(txt, x, y, css) {
  const el = document.createElement("div");
  el.className = "t";
  el.textContent = txt;
  el.style.cssText += `left:${x}px;top:${y}px;` + css;
  fig.appendChild(el);
  return el;
}
function placeSvg(svg, left, top) {
  svg.style.left = left + "px";
  svg.style.top = top + "px";
  svg.style.position = "absolute";
  svg.style.maxWidth = "none";
  fig.appendChild(svg);
}

function drawBox(d, L, i) {
  const b = L.box;
  const ml = 34, mr = 6, mt = 12, mb = 18;
  const W = b.x1 - b.x0, H = b.y1 - b.y0;
  const step = b.c2 - b.c1;
  const stats = riskGroups.map((g, k) => ({risk: g, lo: d.stats[k][0], q1: d.stats[k][1], med: d.stats[k][2], q3: d.stats[k][3], hi: d.stats[k][4]}));
  const outs = [...d.outLow.map(v => ({risk: "low", v})), ...d.outHigh.map(v => ({risk: "high", v}))];
  const drop = 3 * (b.yd[1] - b.yd[0]) / H;
  const br = [["low", b.br - drop], ["low", b.br], ["high", b.br], ["high", b.br - drop]];
  const svg = Plot.plot({
    width: ml + W + mr, height: mt + H + mb,
    marginLeft: ml, marginRight: mr, marginTop: mt, marginBottom: mb,
    style: {background: "transparent", fontFamily: FONT, overflow: "visible", color: INK},
    x: {type: "band", domain: riskGroups, range: [ml + b.c1 - b.x0 - b.bw / 2, ml + b.c2 - b.x0 + b.bw / 2], paddingInner: 1 - b.bw / step, paddingOuter: 0, round: false},
    y: {domain: b.yd},
    color: {domain: riskGroups, range: boxColors},
    marks: [
      Plot.ruleX(stats, {x: "risk", y1: "lo", y2: "hi", stroke: "#333", strokeWidth: 0.7}),
      Plot.barY(stats, {x: "risk", y1: "q1", y2: "q3", fill: "risk", stroke: "#3a3a3a", strokeWidth: 0.7}),
      Plot.tickY(stats, {x: "risk", y: "med", stroke: "#000", strokeWidth: 1.3}),
      Plot.dot(outs, {x: "risk", y: "v", r: 1.4, fill: "#000", stroke: "none"}),
      Plot.line(br, {x: e => e[0], y: e => e[1], stroke: "#444", strokeWidth: 0.5}),
      Plot.text([d.p], {x: () => "low", y: () => b.br, dx: step / 2, dy: -4, fontSize: b.pf, fill: "#222"}),
      Plot.axisY({ticks: d.boxTicks, tickSize: 2.5, tickPadding: 1.5, fontSize: b.tf, label: null, stroke: INK, fill: INK, tickFormat: v => String(v)}),
      Plot.axisX({tickSize: 2.5, tickPadding: 1.5, fontSize: b.lf, label: null, stroke: INK, fill: INK}),
      Plot.frame({anchor: "left", stroke: INK, strokeWidth: 0.8}),
      Plot.frame({anchor: "bottom", stroke: INK, strokeWidth: 0.8}),
      Plot.text([yTitles[i]], {frameAnchor: "left", rotate: -90, dx: b.tdx, fontSize: b.ttf, fill: INK})
    ]
  });
  placeSvg(svg, b.x0 - ml, b.y0 - mt);
}

function italicize(svg) {
  for (const t of svg.querySelectorAll("text")) {
    const s = t.textContent;
    if (!s.startsWith("R = ")) continue;
    const m = s.match(/^R( = .*, )p( = .*)$/);
    if (!m) continue;
    t.textContent = "";
    const parts = [["R", true], [m[1], false], ["p", true], [m[2], false]];
    for (const [txt, it] of parts) {
      const ts = document.createElementNS("http://www.w3.org/2000/svg", "tspan");
      if (it) ts.setAttribute("font-style", "italic");
      ts.textContent = txt;
      t.appendChild(ts);
    }
  }
}

function drawScatter(d, L, i) {
  const s = L.sc;
  const ml = 28, mr = 6, mt = 6, mb = 18;
  const W = s.x1 - s.x0, H = s.y1 - s.y0;
  const pts = [...d.low.map(([x, y]) => ({x, y, risk: "low"})), ...d.high.map(([x, y]) => ({x, y, risk: "high"}))];
  const inY = v => v > s.yd[0] && v < s.yd[1];
  const svg = Plot.plot({
    width: ml + W + mr, height: mt + H + mb,
    marginLeft: ml, marginRight: mr, marginTop: mt, marginBottom: mb,
    style: {background: "transparent", fontFamily: FONT, overflow: "visible", color: INK},
    x: {domain: s.xd},
    y: {domain: s.yd},
    color: {domain: riskGroups, range: dotColors},
    marks: [
      Plot.ruleX(scoreMinor, {stroke: "#f3f3f3", strokeWidth: 0.5}),
      Plot.ruleY(d.minor.filter(inY), {stroke: "#f3f3f3", strokeWidth: 0.5}),
      Plot.ruleX(scoreTicks, {stroke: "#e4e4e4", strokeWidth: 0.7}),
      Plot.ruleY(d.ticks.filter(inY), {stroke: "#e4e4e4", strokeWidth: 0.7}),
      Plot.text([d.stat], {frameAnchor: "top-left", dx: s.ax, dy: s.ay, textAnchor: "start", lineAnchor: "middle", fontSize: s.af, fill: "#111"}),
      Plot.dot(pts, {x: "x", y: "y", fill: "risk", r: 1.6, stroke: "none"}),
      Plot.areaY(d.band, {x: e => e[0], y1: e => e[1], y2: e => e[2], fill: "#999", fillOpacity: 0.45}),
      Plot.line(d.fit, {x: e => e[0], y: e => e[1], stroke: "#3a6bc4", strokeWidth: 1}),
      Plot.frame({stroke: "#a8a8a8", strokeWidth: 1.1}),
      Plot.axisX({ticks: scoreTicks, tickSize: 1.5, tickPadding: 0.8, fontSize: s.tf, label: null, stroke: "#4d4d4d", fill: "#4d4d4d", tickFormat: v => String(v)}),
      Plot.axisY({ticks: d.ticks, tickSize: 1.5, tickPadding: 0.8, fontSize: s.tf, label: null, stroke: "#4d4d4d", fill: "#4d4d4d", tickFormat: v => String(v)}),
      Plot.text([xTitle], {frameAnchor: "bottom", dy: s.xdy, fontSize: s.lf, fill: INK}),
      Plot.text([yTitles[i]], {frameAnchor: "left", rotate: -90, dx: s.ydx, fontSize: s.lf, fill: INK})
    ]
  });
  italicize(svg);
  placeSvg(svg, s.x0 - ml, s.y0 - mt);
}

function swatch(k) {
  const c = boxColors[k];
  return `<svg width="9" height="7" style="position:static;display:block"><line x1="4.5" y1="0" x2="4.5" y2="7" stroke="#333" stroke-width="0.6"/><rect x="0.5" y="1.3" width="8" height="4.4" fill="${c}" stroke="#333" stroke-width="0.6"/><line x1="0.5" y1="3.5" x2="8.5" y2="3.5" stroke="#000" stroke-width="0.8"/></svg>`;
}
function boxLegend(x, y, fs) {
  const el = document.createElement("div");
  el.className = "t";
  el.style.cssText += `left:${x}px;top:${y}px;transform:translateY(-50%);display:flex;align-items:center;font-size:${fs}px;gap:${(fs * 0.5).toFixed(1)}px;`;
  el.innerHTML = `<span style="margin-right:${(fs * 0.35).toFixed(1)}px">risk</span>` +
    riskGroups.map((g, k) => `${swatch(k)}<span style="margin-right:${(fs * 0.3).toFixed(1)}px">${g}</span>`).join("");
  fig.appendChild(el);
}
function dotLegend(spec) {
  const [x, y, y1, y2, ddx, tdx, fs] = spec;
  addText("risk", x, y, `transform:translateY(-50%);font-size:${fs + 0.5}px;`);
  legendOrder.forEach((g, k) => {
    const yy = k === 0 ? y1 : y2;
    const col = dotColors[riskGroups.indexOf(g)];
    const dot = document.createElement("div");
    dot.style.cssText = `position:absolute;left:${x + ddx - 1.6}px;top:${yy - 1.6}px;width:3.2px;height:3.2px;border-radius:50%;background:${col};`;
    fig.appendChild(dot);
    addText(g, x + tdx, yy, `transform:translateY(-50%);font-size:${fs}px;`);
  });
}

panelData.forEach((d, i) => {
  const L = layout[i];
  addText(panelLetters[i], L.letter[0], L.letter[1], "transform:translateY(-50%);font-size:14px;font-weight:bold;color:#000;");
  addText(panelTitles[i], L.title[0], L.title[1], "transform:translate(-50%,-50%);font-size:12.5px;font-weight:bold;color:#000;");
  boxLegend(L.boxLeg[0], L.boxLeg[1], L.boxLeg[2]);
  drawBox(d, L, i);
  drawScatter(d, L, i);
  dotLegend(L.scLeg);
});
</script>
</body></html>
